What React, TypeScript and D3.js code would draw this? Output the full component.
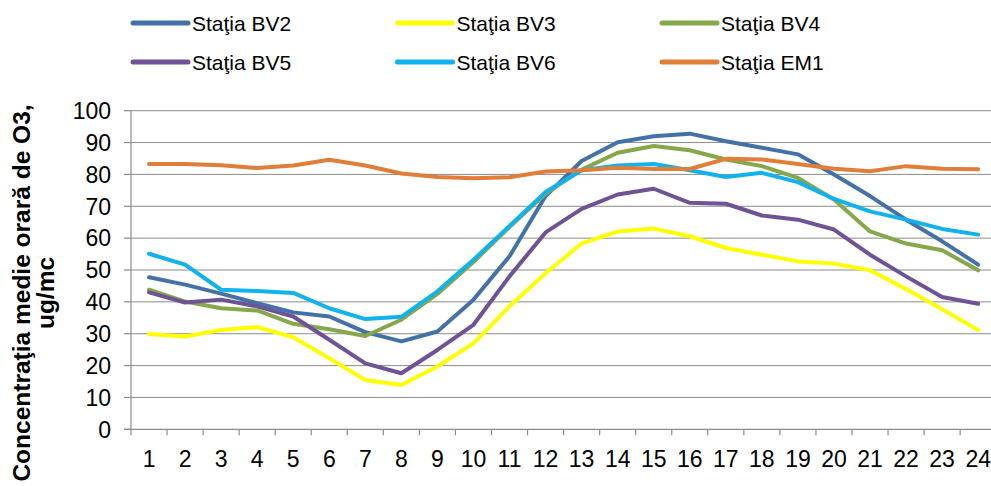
import { useMemo } from 'react';
import * as d3 from 'd3';

// hourly mean O3 concentration per station (ug/mc)
const HOURS = ['1', '2', '3', '4', '5', '6', '7', '8', '9', '10', '11', '12', '13', '14', '15', '16', '17', '18', '19', '20', '21', '22', '23', '24'];
const BV2 = [47.7, 45.4, 42.6, 39.6, 36.7, 35.4, 30.5, 27.6, 30.7, 40.7, 54.3, 73.2, 84.2, 90.1, 92.0, 92.8, 90.4, 88.4, 86.3, 80.0, 73.2, 65.8, 59.0, 51.7];
const BV3 = [29.9, 29.1, 31.2, 32.1, 28.9, 22.3, 15.5, 13.9, 19.7, 27.0, 38.6, 49.0, 58.3, 62.1, 63.0, 60.6, 56.9, 54.8, 52.7, 52.0, 49.9, 44.0, 37.7, 31.2];
const BV4 = [43.8, 40.1, 38.0, 37.3, 33.1, 31.4, 29.3, 34.4, 42.5, 52.5, 63.5, 74.0, 81.5, 86.8, 88.9, 87.6, 84.7, 82.6, 78.9, 72.1, 62.1, 58.3, 56.2, 49.9];
const BV5 = [43.0, 39.8, 40.7, 38.6, 35.4, 28.1, 20.7, 17.6, 24.9, 32.8, 48.0, 61.8, 69.2, 73.7, 75.5, 71.1, 70.8, 67.1, 65.8, 62.7, 54.8, 48.0, 41.5, 39.4];
const BV6 = [55.1, 51.7, 43.8, 43.4, 42.8, 38.0, 34.6, 35.3, 43.3, 53.2, 63.8, 74.5, 81.3, 82.8, 83.3, 81.3, 79.2, 80.5, 77.6, 72.3, 68.4, 65.8, 62.9, 61.1];
const EM1 = [83.3, 83.3, 82.9, 82.0, 82.8, 84.6, 82.8, 80.3, 79.2, 78.8, 79.1, 80.9, 81.3, 82.1, 81.7, 81.7, 84.9, 84.7, 83.3, 81.8, 81.0, 82.6, 81.8, 81.6];

const SERIES_NAMES = ['Staţia BV2', 'Staţia BV3', 'Staţia BV4', 'Staţia BV5', 'Staţia BV6', 'Staţia EM1'];
const SERIES_VALUES = [BV2, BV3, BV4, BV5, BV6, EM1];
const COLORS = ['#4472a8', '#ffff00', '#86a84a', '#6e5497', '#12b2ec', '#e07e3a'];
const Y_TICKS = [0, 10, 20, 30, 40, 50, 60, 70, 80, 90, 100];
const Y_TITLE = ['Concentraţia medie orară de O3,', 'ug/mc'];

const WIDTH = 991;
const HEIGHT = 486;
const FONT = '"Liberation Sans", Arial, sans-serif';

export default function App() {
  const margin = { left: 131, top: 110.7, bottom: 429.3 };
  const plotRight = margin.left + 36.05 * HOURS.length;

  const x = useMemo(() => d3.scaleBand<string>().domain(HOURS).range([margin.left, plotRight]), []);
  const y = useMemo(() => d3.scaleLinear().domain([0, 100]).range([margin.bottom, margin.top]), []);

  const line = d3.line<number>()
    .x((_, i) => (x(HOURS[i]) as number) + x.bandwidth() / 2)
    .y(d => y(d));

  const gridColor = '#8c8c8c';

  return (
    <div style={{ position: 'absolute', left: 0, top: 0 }}>
      <svg width={WIDTH} height={HEIGHT} style={{ display: 'block', background: '#fff', fontFamily: FONT }}>
        {/* gridlines */}
        {Y_TICKS.filter(t => t > 0).map(t => (
          <line key={t} x1={margin.left} x2={plotRight} y1={y(t)} y2={y(t)} stroke={gridColor} strokeWidth={1} />
        ))}
        {/* y axis */}
        <line x1={margin.left} x2={margin.left} y1={margin.top} y2={margin.bottom + 6} stroke={gridColor} strokeWidth={1.2} />
        {Y_TICKS.map(t => (
          <g key={t}>
            <line x1={margin.left - 7} x2={margin.left} y1={y(t)} y2={y(t)} stroke={gridColor} strokeWidth={1.2} />
            <text x={111} y={y(t)} dy="0.36em" textAnchor="end" fontSize={23} fill="#000">{t}</text>
          </g>
        ))}
        {/* x axis */}
        <line x1={margin.left - 7} x2={plotRight} y1={margin.bottom} y2={margin.bottom} stroke={gridColor} strokeWidth={1.2} />
        {HOURS.map(h => (
          <g key={h}>
            <line x1={(x(h) as number) + x.bandwidth()} x2={(x(h) as number) + x.bandwidth()} y1={margin.bottom} y2={margin.bottom + 6} stroke={gridColor} strokeWidth={1.2} />
            <text x={(x(h) as number) + x.bandwidth() / 2} y={467} textAnchor="middle" fontSize={23} fill="#000">{h}</text>
          </g>
        ))}
        {/* series */}
        {SERIES_VALUES.map((vals, i) => (
          <path key={i} d={line(vals) || ''} fill="none" stroke={COLORS[i]} strokeWidth={4} strokeLinejoin="round" strokeLinecap="round" />
        ))}
        {/* legend */}
        {SERIES_NAMES.map((name, i) => {
          const lx = 133 + (i % 3) * 264.5;
          const ly = 23 + Math.floor(i / 3) * 39;
          return (
            <g key={name}>
              <line x1={lx} x2={lx + 55} y1={ly} y2={ly} stroke={COLORS[i]} strokeWidth={5} strokeLinecap="round" />
              <text x={lx + 59} y={ly} dy="0.36em" fontSize={21} fill="#000">{name}</text>
            </g>
          );
        })}
        {/* y title */}
        <g transform="translate(30,293) rotate(-90)">
          <text x={0} y={0} textAnchor="middle" fontSize={24.5} fontWeight="bold" fill="#000">{Y_TITLE[0]}</text>
          <text x={0} y={24} textAnchor="middle" fontSize={24.5} fontWeight="bold" fill="#000">{Y_TITLE[1]}</text>
        </g>
      </svg>
    </div>
  );
}
